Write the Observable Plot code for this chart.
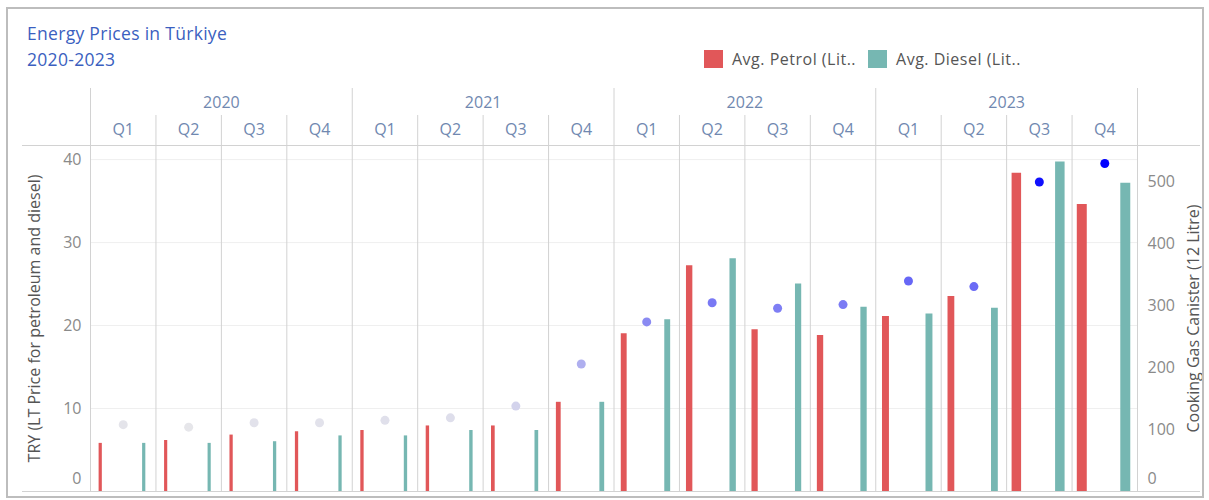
<!DOCTYPE html>
<html><head><meta charset="utf-8">
<script src="https://cdn.jsdelivr.net/npm/d3@7"></script>
<script src="https://cdn.jsdelivr.net/npm/@observablehq/plot@0.6"></script>
<style>
body{margin:0;background:#fff;font-family:"Open Sans",sans-serif;}
#wrap{position:relative;width:1209px;height:500px;overflow:hidden;}
#border{position:absolute;left:6px;top:7px;width:1198px;height:491px;border:2px solid #bdbdbd;box-sizing:border-box;pointer-events:none;}
#title{position:absolute;left:27px;top:20px;color:#3b5fc0;font-size:17.5px;line-height:26px;letter-spacing:0.3px;}
#legend{position:absolute;left:704px;top:50px;font-size:16px;color:#555;display:flex;align-items:center;height:18px;letter-spacing:0.5px;}
#legend .item{display:flex;align-items:center;margin-right:12px;}
#legend .sw{width:19px;height:18px;display:inline-block;margin-right:9px;}
#chart{position:absolute;left:0;top:80px;}
</style></head>
<body><div id="wrap">
<div id="title">Energy Prices in Türkiye<br>2020-2023</div>
<div id="legend"></div>
<div id="chart"></div>
<div id="border"></div>
</div>
<script>
const years = ["2020","2021","2022","2023"];
const quarters = ["Q1","Q2","Q3","Q4"];
const petrol = [5.8,6.15,6.8,7.2, 7.35,7.9,7.9,10.75, 19.0,27.2,19.5,18.8, 21.1,23.5,38.35,34.6];
const diesel = [5.8,5.8,6.0,6.7, 6.7,7.35,7.35,10.75, 20.7,28.05,25.0,22.2, 21.4,22.1,39.7,37.15];
const gas = [108,104,111,111, 115,119,138,206, 274,305,296,302, 340,331,500,530];
const leftTicks = [0,10,20,30,40];
const rightTicks = [0,100,200,300,400,500];
const seriesNames = ["Avg. Petrol (Lit..","Avg. Diesel (Lit.."];
const seriesColors = ["#e15759","#76b7b2"];
const leftTitle = "TRY (LT Price for petroleum and diesel)";
const rightTitle = "Cooking Gas Canister (12 Litre)";

const keys = years.flatMap(y => quarters.map(q => `${y} ${q}`));
const rows = keys.map((k, i) => ({key: k, petrol: petrol[i], diesel: diesel[i], gas: gas[i]}));

const W = 1209, H = 420, ML = 90, MR = 72, MT = 65, MB = 9;
const bw = (W - ML - MR) / keys.length;
const yMax = 41.7, rMax = 559, k = yMax / rMax;
const barW = d => 1.5 + d.gas * 0.016;
const lineC = "#d2d2d2";

const legend = document.getElementById("legend");
seriesNames.forEach((n, i) => {
  const it = document.createElement("span"); it.className = "item";
  it.innerHTML = `<span class="sw" style="background:${seriesColors[i]}"></span>${n}`;
  legend.appendChild(it);
});

const chart = Plot.plot({
  width: W, height: H,
  marginLeft: ML, marginRight: MR, marginTop: MT, marginBottom: MB,
  style: {fontFamily: "Open Sans", fontSize: "16px", background: "transparent", overflow: "visible"},
  x: {type: "band", domain: keys, padding: 0, round: false},
  y: {domain: [0, yMax]},
  color: {type: "linear", domain: [100, 530], range: ["#e8e8ea", "#0000ff"], interpolate: "rgb"},
  marks: [
    Plot.ruleY(leftTicks.filter(v => v > 0), {stroke: "#efefef"}),
    Plot.ruleX(keys.filter(d => !d.endsWith("Q1")), {dx: -bw / 2, stroke: lineC, insetTop: -30}),
    Plot.ruleX(keys.filter(d => d.endsWith("Q1")), {dx: -bw / 2, stroke: lineC, insetTop: -57}),
    Plot.ruleX([keys[keys.length - 1]], {dx: bw / 2, stroke: lineC, insetTop: -57}),
    Plot.ruleY([0, yMax], {stroke: lineC, insetLeft: -68, insetRight: -63}),
    Plot.ruleX(rows, {x: "key", y1: 0, y2: "petrol", stroke: seriesColors[0], strokeWidth: barW, dx: -23}),
    Plot.ruleX(rows, {x: "key", y1: 0, y2: "diesel", stroke: seriesColors[1], strokeWidth: barW, dx: 20.5}),
    Plot.dot(rows, {x: "key", y: d => d.gas * k, r: 4.5, fill: "gas"}),
    Plot.axisX({anchor: "top", tickSize: 0, tickPadding: 11, tickFormat: d => d.split(" ")[1], color: "#7088b0", label: null}),
    Plot.text(years, {x: d => d + " Q2", dx: bw / 2, frameAnchor: "top", lineAnchor: "middle", dy: -43, fill: "#7088b0"}),
    Plot.axisY(leftTicks.filter(v => v > 0), {anchor: "left", tickSize: 0, tickPadding: 9, color: "#8a8a8a", label: null}),
    Plot.axisY([0], {anchor: "left", tickSize: 0, tickPadding: 9, dy: -13, color: "#8a8a8a", label: null}),
    Plot.axisY(rightTicks.filter(v => v > 0).map(v => v * k), {anchor: "right", tickSize: 0, tickPadding: 10, tickFormat: d => Math.round(d / k), color: "#8a8a8a", label: null}),
    Plot.axisY([0], {anchor: "right", tickSize: 0, tickPadding: 10, dy: -13, color: "#8a8a8a", label: null}),
    Plot.text([leftTitle], {frameAnchor: "left", textAnchor: "middle", lineAnchor: "middle", rotate: -90, dx: -56, fill: "#555"}),
    Plot.text([rightTitle], {frameAnchor: "right", textAnchor: "middle", lineAnchor: "middle", rotate: -90, dx: 56, fill: "#555"})
  ]
});
document.getElementById("chart").appendChild(chart);
</script>
</body></html>
